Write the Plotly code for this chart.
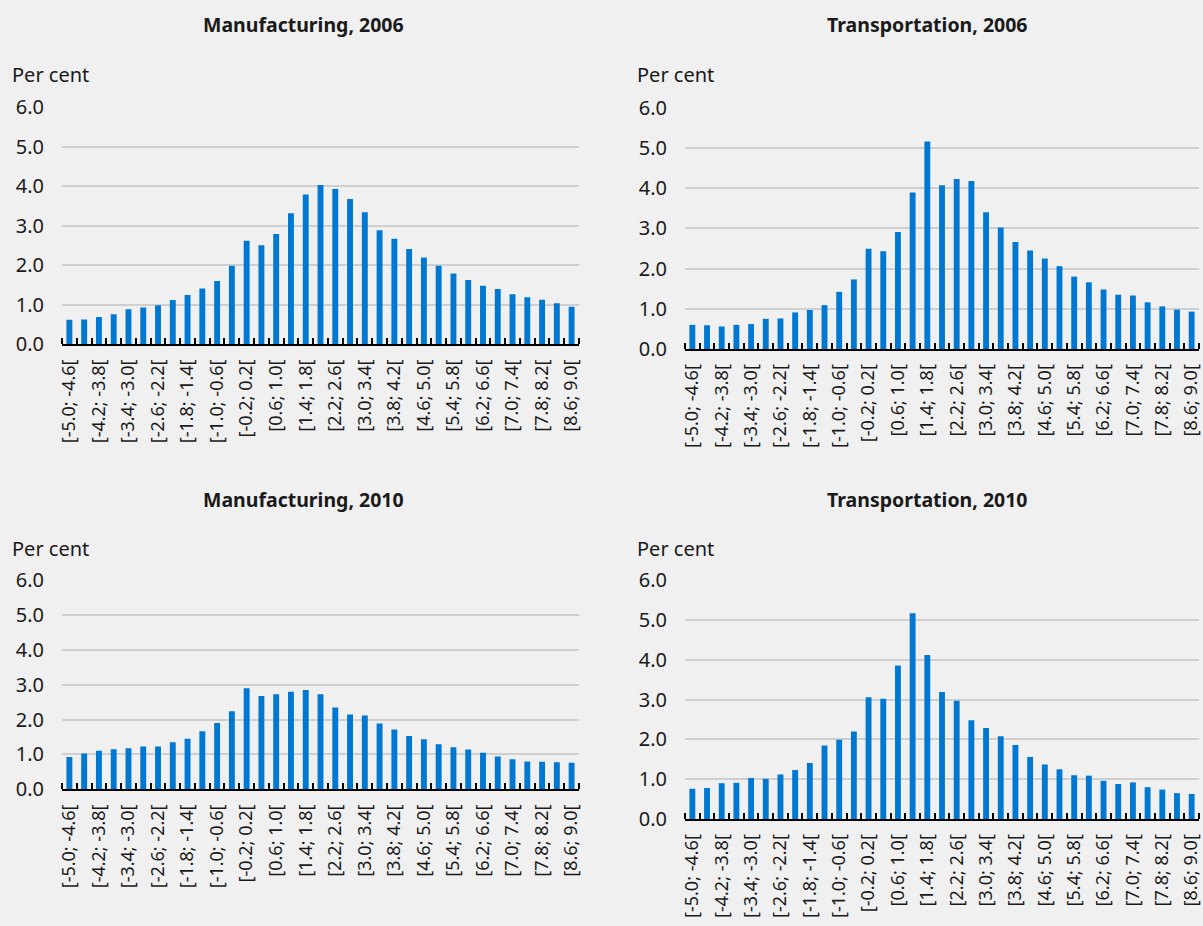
import plotly.graph_objects as go

bins = ["[-5.0; -4.6[", "[-4.6; -4.2[", "[-4.2; -3.8[", "[-3.8; -3.4[", "[-3.4; -3.0[",
        "[-3.0; -2.6[", "[-2.6; -2.2[", "[-2.2; -1.8[", "[-1.8; -1.4[", "[-1.4; -1.0[",
        "[-1.0; -0.6[", "[-0.6; -0.2[", "[-0.2; 0.2[", "[0.2; 0.6[", "[0.6; 1.0[",
        "[1.0; 1.4[", "[1.4; 1.8[", "[1.8; 2.2[", "[2.2; 2.6[", "[2.6; 3.0[",
        "[3.0; 3.4[", "[3.4; 3.8[", "[3.8; 4.2[", "[4.2; 4.6[", "[4.6; 5.0[",
        "[5.0; 5.4[", "[5.4; 5.8[", "[5.8; 6.2[", "[6.2; 6.6[", "[6.6; 7.0[",
        "[7.0; 7.4[", "[7.4; 7.8[", "[7.8; 8.2[", "[8.2; 8.6[", "[8.6; 9.0["]

manuf_2006 = [0.62, 0.63, 0.69, 0.76, 0.89, 0.93, 0.99, 1.12, 1.25, 1.41,
              1.60, 1.99, 2.62, 2.51, 2.79, 3.32, 3.79, 4.03, 3.93, 3.68,
              3.34, 2.89, 2.67, 2.41, 2.20, 1.99, 1.79, 1.63, 1.48, 1.40,
              1.27, 1.19, 1.13, 1.04, 0.95]
transp_2006 = [0.60, 0.59, 0.56, 0.60, 0.62, 0.75, 0.76, 0.91, 0.97, 1.09,
               1.42, 1.73, 2.49, 2.43, 2.91, 3.89, 5.16, 4.07, 4.23, 4.18,
               3.40, 3.02, 2.66, 2.45, 2.25, 2.06, 1.80, 1.66, 1.48, 1.35,
               1.33, 1.16, 1.06, 0.98, 0.93]
manuf_2010 = [0.93, 1.03, 1.11, 1.15, 1.18, 1.23, 1.23, 1.35, 1.45, 1.67,
              1.90, 2.24, 2.90, 2.68, 2.73, 2.80, 2.85, 2.73, 2.35, 2.15,
              2.12, 1.89, 1.72, 1.53, 1.44, 1.29, 1.21, 1.14, 1.05, 0.94,
              0.86, 0.80, 0.79, 0.78, 0.76]
transp_2010 = [0.76, 0.78, 0.90, 0.91, 1.03, 1.01, 1.12, 1.23, 1.41, 1.85,
               1.99, 2.20, 3.06, 3.02, 3.86, 5.17, 4.12, 3.19, 2.97, 2.48,
               2.29, 2.08, 1.86, 1.56, 1.37, 1.25, 1.10, 1.09, 0.96, 0.88,
               0.92, 0.80, 0.74, 0.65, 0.63]

titles = ["Manufacturing, 2006", "Transportation, 2006",
          "Manufacturing, 2010", "Transportation, 2010"]
series = [manuf_2006, transp_2006, manuf_2010, transp_2010]
y_ticks = [0, 1, 2, 3, 4, 5, 6]

W, H = 1203, 926
BAR = "#0078D2"
FONT = "Noto Sans"
TXT = "#1a1a1a"

# pixel boxes of plot areas: (x0, x1, ytop, ybottom)
boxes = [(62, 579, 107.3, 344.3), (685, 1199, 107.7, 349.0),
         (62, 579, 580.3, 789.3), (685, 1199, 580.3, 819.0)]
title_pos = [(303, 25), (927, 25), (303, 500), (927, 500)]
unit_pos = [(10, 75), (635, 75), (10, 548), (635, 548)]

fig = go.Figure()
n = len(bins)
pos = list(range(n))
for k, (vals, box) in enumerate(zip(series, boxes)):
    sfx = "" if k == 0 else str(k + 1)
    fig.add_trace(go.Bar(x=pos, y=vals, width=0.4, marker=dict(color=BAR, line=dict(width=0)),
                         xaxis="x" + sfx, yaxis="y" + sfx, showlegend=False,
                         hovertext=bins, hoverinfo="text+y"))
    x0, x1, yt, yb = box
    fig.update_layout(**{
        "xaxis" + sfx: dict(
            domain=[x0 / W, x1 / W], anchor="y" + sfx, range=[-0.5, n - 0.5],
            tickmode="array", tickvals=pos[::2], ticktext=bins[::2],
            tickangle=-90, ticks="", showgrid=False, zeroline=False, automargin=False,
            ticklabeloverflow="allow", ticklabelstandoff=6,
            showline=True, linecolor="black", linewidth=2,
            tickfont=dict(family=FONT, size=18, color=TXT),
            minor=dict(tickmode="array", tickvals=[i - 0.5 for i in range(n + 1)],
                       ticks="inside", ticklen=6, tickwidth=1.5, tickcolor="black",
                       showgrid=False),
            fixedrange=True,
        ),
        "yaxis" + sfx: dict(
            domain=[1 - yb / H, 1 - yt / H], anchor="x" + sfx, range=[0, 6],
            tickmode="array", tickvals=y_ticks, ticktext=[f"{v:.1f}" for v in y_ticks],
            showgrid=True, gridcolor="#cfcfcf", gridwidth=1.5, zeroline=False,
            ticks="", ticklabelstandoff=17, automargin=False,
            tickfont=dict(family=FONT, size=20, color=TXT), fixedrange=True,
        ),
    })

ann = []
for t, (tx, ty) in zip(titles, title_pos):
    ann.append(dict(text="<b>" + t + "</b>", x=tx / W, y=1 - ty / H, xref="paper", yref="paper",
                    xanchor="center", yanchor="middle", showarrow=False,
                    font=dict(family=FONT, size=19.5, color=TXT)))
for (ux, uy) in unit_pos:
    ann.append(dict(text="Per cent", x=ux / W, y=1 - uy / H, xref="paper", yref="paper",
                    xanchor="left", yanchor="middle", showarrow=False,
                    font=dict(family=FONT, size=20, color=TXT)))

fig.update_layout(width=W, height=H, margin=dict(l=0, r=0, t=0, b=0, autoexpand=False),
                  paper_bgcolor="#f0f0f0", plot_bgcolor="#f0f0f0",
                  annotations=ann, bargap=0.6)

fig.write_html("out.html", config={"displayModeBar": False})

# remove default page margin so the figure fills the window from its top-left corner
with open("out.html", "r", encoding="utf-8") as f:
    html = f.read()
html = html.replace("<head>", "<head><style>html,body{margin:0;padding:0;background:#f0f0f0;overflow:hidden}</style>", 1)
with open("out.html", "w", encoding="utf-8") as f:
    f.write(html)
